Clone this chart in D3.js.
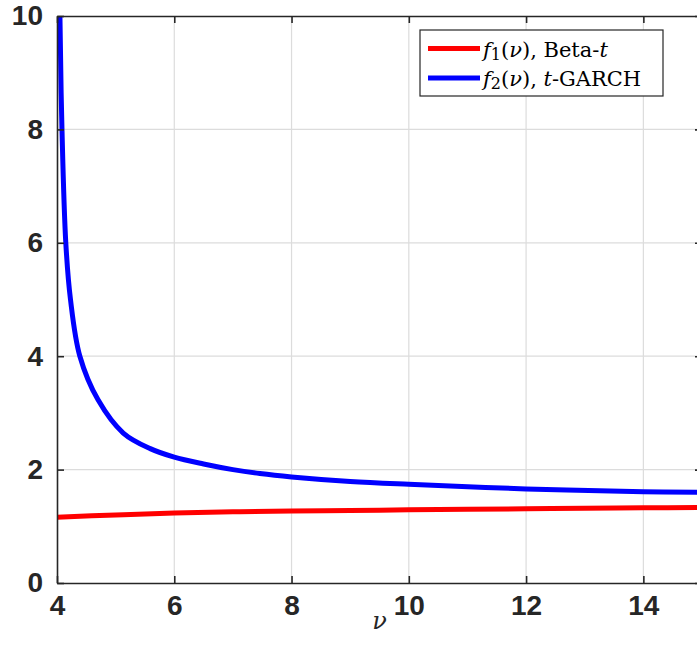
<!DOCTYPE html>
<html>
<head>
<meta charset="utf-8">
<script src="https://cdn.jsdelivr.net/npm/d3@7"></script>
<style>
  body { margin: 0; background: #fff; overflow: hidden; }
  svg { display: block; }
</style>
</head>
<body>
<div id="chart"></div>
<script>
// values
var nu1 = [4, 5, 6, 7, 8, 9, 10, 11, 12, 13, 14, 15];
var f1 = [1.16, 1.20, 1.235, 1.255, 1.27, 1.28, 1.29, 1.30, 1.31, 1.32, 1.325, 1.33];

var nu2 = [4.02, 4.05, 4.085, 4.15, 4.23, 4.39, 4.7, 5.13, 5.59, 6, 6.5, 7, 7.46, 8, 9, 10, 12, 14, 15];
var f2 = [14, 10, 8, 6, 5, 4, 3.23, 2.645, 2.37, 2.22, 2.10, 2.0, 1.93, 1.87, 1.79, 1.74, 1.66, 1.61, 1.60];

var xTicks = [4, 6, 8, 10, 12, 14];
var yTicks = [0, 2, 4, 6, 8, 10];

var legendLabels = [
  {color: "#ff0000", sub: "1", rest: ", Beta-", tail: "t", pre: ""},
  {color: "#0000ff", sub: "2", rest: ", ", tail: "-GARCH", pre: "t"}
];

var svgWidth = 697, svgHeight = 664;
var margin = {top: 16, left: 57, bottom: 81, right: -5};
var width = svgWidth - margin.left - margin.right;
var height = svgHeight - margin.top - margin.bottom;

var svg = d3.select("#chart").append("svg")
  .attr("width", svgWidth)
  .attr("height", svgHeight);

var g = svg.append("g")
  .attr("transform", `translate(${margin.left}, ${margin.top})`);

var x = d3.scaleLinear().domain([4, 15]).range([0, width]);
var y = d3.scaleLinear().domain([0, 10]).range([height, 0]);

// grid
g.selectAll(".gx").data(xTicks.slice(1)).enter().append("line")
  .attr("x1", d => x(d)).attr("x2", d => x(d))
  .attr("y1", 0).attr("y2", height)
  .attr("stroke", "#dcdcdc").attr("stroke-width", 1.2);
g.selectAll(".gy").data(yTicks.slice(1, -1)).enter().append("line")
  .attr("y1", d => y(d)).attr("y2", d => y(d))
  .attr("x1", 0).attr("x2", width)
  .attr("stroke", "#dcdcdc").attr("stroke-width", 1.2);

// curves
g.append("clipPath").attr("id", "clip")
  .append("rect").attr("width", width).attr("height", height);

var line = d3.line().curve(d3.curveCatmullRom.alpha(0.5))
  .x(d => x(d[0])).y(d => y(d[1]));

g.append("path")
  .datum(d3.zip(nu1, f1))
  .attr("d", line)
  .attr("clip-path", "url(#clip)")
  .attr("fill", "none").attr("stroke", "#ff0000").attr("stroke-width", 5);

g.append("path")
  .datum(d3.zip(nu2, f2))
  .attr("d", line)
  .attr("clip-path", "url(#clip)")
  .attr("fill", "none").attr("stroke", "#0000ff").attr("stroke-width", 5);

// axes (box with inward ticks)
var tickLen = 7;
var bottomAxis = d3.axisBottom(x).tickValues(xTicks).tickSizeInner(-tickLen).tickSizeOuter(0).tickPadding(12);
var leftAxis = d3.axisLeft(y).tickValues(yTicks).tickSizeInner(-tickLen).tickSizeOuter(0).tickPadding(14);
var topAxis = d3.axisTop(x).tickValues(xTicks).tickSizeInner(-tickLen).tickSizeOuter(0).tickFormat("");
var rightAxis = d3.axisRight(y).tickValues(yTicks).tickSizeInner(-tickLen).tickSizeOuter(0).tickFormat("");

[
  g.append("g").attr("transform", `translate(0,${height})`).call(bottomAxis),
  g.append("g").call(leftAxis),
  g.append("g").call(topAxis),
  g.append("g").attr("transform", `translate(${width},0)`).call(rightAxis)
].forEach(function(ax) {
  ax.selectAll("path, line").attr("stroke", "#262626").attr("stroke-width", 1.6);
  ax.selectAll("text")
    .attr("fill", "#262626")
    .style("font-family", "'Liberation Sans', Arial, sans-serif")
    .style("font-weight", "bold")
    .style("font-size", "28px");
});

// x label
g.append("text")
  .attr("x", x(9.5)).attr("y", height + 46)
  .attr("text-anchor", "middle")
  .style("font-family", "'DejaVu Serif', serif")
  .style("font-style", "italic")
  .style("font-size", "24px")
  .attr("fill", "#262626")
  .text("ν");

// legend
var lg = svg.append("g").attr("transform", "translate(420,30)");
lg.append("rect").attr("width", 243).attr("height", 66)
  .attr("fill", "#fff").attr("stroke", "#262626").attr("stroke-width", 1.2);

legendLabels.forEach(function(d, i) {
  var yy = 18.5 + i * 29.5;
  lg.append("line").attr("x1", 8).attr("x2", 60).attr("y1", yy).attr("y2", yy)
    .attr("stroke", d.color).attr("stroke-width", 5);
  var t = lg.append("text").attr("x", 63).attr("y", yy + 8)
    .style("font-family", "'DejaVu Serif', serif")
    .style("font-size", "21px")
    .attr("fill", "#000");
  t.append("tspan").style("font-style", "italic").text("f");
  t.append("tspan").attr("dy", 3).style("font-size", "16px").text(d.sub);
  t.append("tspan").attr("dy", -3).text("(");
  t.append("tspan").style("font-style", "italic").text("ν");
  t.append("tspan").text(")" + d.rest);
  if (d.pre) {
    t.append("tspan").style("font-style", "italic").text(d.pre);
    t.append("tspan").text(d.tail);
  } else {
    t.append("tspan").style("font-style", "italic").text(d.tail);
  }
});
</script>
</body>
</html>
